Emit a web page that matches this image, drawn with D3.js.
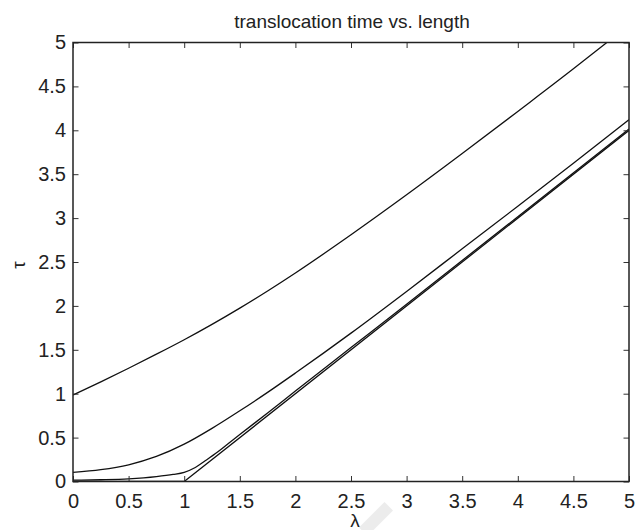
<!DOCTYPE html>
<html>
<head>
    <title>translocation time vs. length</title>
    <script src="https://d3js.org/d3.v7.min.js"></script>
    <style>
        body { margin: 0; background: #fff; }
        svg text { font-family: "Liberation Sans", Arial, sans-serif; fill: #222; }
    </style>
</head>
<body>
    <svg id="chart" width="635" height="530"></svg>
    <script>
        // values
        const lambdaA = [0, 0.25, 0.5, 0.75, 1, 1.25, 1.5, 1.75, 2, 2.5, 3, 3.5, 4, 4.5, 4.8];
        const tauA    = [0.985, 1.135, 1.29, 1.45, 1.615, 1.79, 1.975, 2.17, 2.375, 2.81, 3.265, 3.735, 4.215, 4.70, 5.0];

        const lambdaB = [0, 0.25, 0.5, 0.75, 1, 1.25, 1.5, 1.75, 2, 2.5, 3, 3.5, 4, 4.5, 5];
        const tauB    = [0.105, 0.135, 0.19, 0.285, 0.425, 0.605, 0.805, 1.015, 1.235, 1.69, 2.165, 2.65, 3.135, 3.625, 4.12];

        const lambdaC = [0, 0.25, 0.5, 0.75, 0.9, 1, 1.1, 1.2, 1.3, 1.4, 1.5, 1.75, 2, 2.5, 3, 4, 5];
        const tauC    = [0.015, 0.02, 0.03, 0.055, 0.08, 0.105, 0.16, 0.245, 0.335, 0.435, 0.535, 0.78, 1.03, 1.525, 2.02, 3.015, 4.015];

        const lambdaD = [0, 1, 5];
        const tauD    = [0, 0, 4];

        const xTicks = [0, 0.5, 1, 1.5, 2, 2.5, 3, 3.5, 4, 4.5, 5];
        const yTicks = [0, 0.5, 1, 1.5, 2, 2.5, 3, 3.5, 4, 4.5, 5];

        const svg = d3.select("#chart");
        const margin = { top: 42.5, left: 73, right: 6, bottom: 48.5 };
        const width = 635 - margin.left - margin.right;
        const height = 530 - margin.top - margin.bottom;

        const x = d3.scaleLinear().domain([0, 5]).range([0, width]);
        const y = d3.scaleLinear().domain([0, 5]).range([height, 0]);

        const g = svg.append("g").attr("transform", `translate(${margin.left},${margin.top})`);

        g.append("clipPath").attr("id", "clip")
            .append("rect").attr("width", width).attr("height", height);

        const series = [
            { l: lambdaA, t: tauA, curve: d3.curveMonotoneX },
            { l: lambdaB, t: tauB, curve: d3.curveMonotoneX },
            { l: lambdaC, t: tauC, curve: d3.curveMonotoneX },
            { l: lambdaD, t: tauD, curve: d3.curveLinear }
        ];

        series.forEach(s => {
            const pts = s.l.map((v, i) => [v, s.t[i]]);
            const line = d3.line().x(d => x(d[0])).y(d => y(d[1])).curve(s.curve);
            g.append("path")
                .attr("clip-path", "url(#clip)")
                .attr("d", line(pts))
                .attr("fill", "none")
                .attr("stroke", "#111")
                .attr("stroke-width", 1.3);
        });

        // axes, ticks pointing inward on all four sides
        const tickLen = 5.5;
        const styleAxis = sel => {
            sel.select(".domain").remove();
            sel.selectAll(".tick line").attr("stroke", "#333").attr("stroke-width", 1);
            sel.selectAll(".tick text").attr("font-size", "20px").attr("fill", "#222");
        };

        g.append("g").attr("transform", `translate(0,${height})`)
            .call(d3.axisBottom(x).tickValues(xTicks).tickSize(-tickLen).tickPadding(12).tickFormat(d3.format("")))
            .call(styleAxis);
        g.append("g")
            .call(d3.axisTop(x).tickValues(xTicks).tickSize(-tickLen).tickFormat(""))
            .call(styleAxis);
        g.append("g")
            .call(d3.axisLeft(y).tickValues(yTicks).tickSize(-tickLen).tickPadding(7).tickFormat(d3.format("")))
            .call(styleAxis);
        g.append("g").attr("transform", `translate(${width},0)`)
            .call(d3.axisRight(y).tickValues(yTicks).tickSize(-tickLen).tickFormat(""))
            .call(styleAxis);

        g.selectAll(".tick text").attr("font-family", "Liberation Sans, Arial, sans-serif");

        g.append("rect")
            .attr("width", width).attr("height", height)
            .attr("fill", "none").attr("stroke", "#222").attr("stroke-width", 1.5);

        // faint watermark band under the x label
        svg.append("rect")
            .attr("x", -18).attr("y", -6).attr("width", 36).attr("height", 12)
            .attr("transform", "translate(376,519) rotate(-45)")
            .attr("fill", "#ececec");

        svg.append("text")
            .attr("x", 352).attr("y", 28)
            .attr("text-anchor", "middle")
            .attr("font-size", "19px")
            .text("translocation time vs. length");

        svg.append("text")
            .attr("x", 355).attr("y", 527)
            .attr("text-anchor", "middle")
            .attr("font-size", "19px")
            .text("λ");

        svg.append("text")
            .attr("transform", "rotate(-90)")
            .attr("x", -265).attr("y", 25)
            .attr("text-anchor", "middle")
            .attr("font-size", "19px")
            .text("τ");
    </script>
</body>
</html>
